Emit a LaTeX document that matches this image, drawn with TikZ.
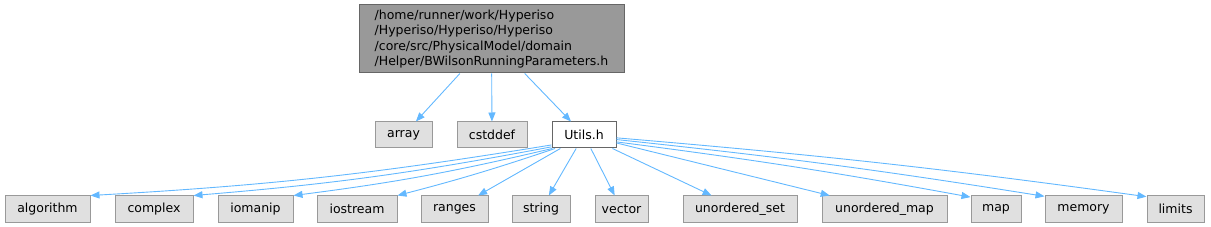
\documentclass[tikz,border=0pt]{standalone}
\usepackage{fontspec}
\setmainfont{DejaVu Sans}
\usetikzlibrary{arrows.meta}

\definecolor{edgeblue}{HTML}{63B8FF}
\definecolor{hdrfill}{HTML}{999999}
\definecolor{hdrline}{HTML}{666666}
\definecolor{incfill}{HTML}{E0E0E0}
\definecolor{incline}{HTML}{999999}

\begin{document}
\begin{tikzpicture}[
    x=1pt, y=1pt,
    font=\fontsize{12.5}{15.2}\selectfont,
    header/.style={rectangle, draw=hdrline, fill=hdrfill, line width=1pt, align=left, minimum width=265pt, minimum height=68pt, inner sep=0pt},
    sysinc/.style={rectangle, draw=incline, fill=incfill, line width=1pt, minimum height=26pt, inner sep=0pt},
    localinc/.style={rectangle, draw=hdrline, fill=white, line width=1pt, minimum height=26pt, inner sep=0pt},
    dep/.style={-{Triangle[length=9pt,width=7pt]}, draw=edgeblue, line width=0.9pt}
]
    \useasboundingbox (0,0) rectangle (1211,-227);

    % the header itself
    \node[header] (bwilson) at (491.5,-39) {/home/runner/work/Hyperiso\\/Hyperiso/Hyperiso/Hyperiso\\/core/src/PhysicalModel/domain\\/Helper/BWilsonRunningParameters.h};

    % direct includes
    \node[sysinc, minimum width=57pt] (array) at (403.5,-135) {array};
    \node[sysinc, minimum width=70pt] (cstddef) at (492,-135) {cstddef};
    \node[localinc, minimum width=64pt] (utils) at (584,-135) {Utils.h};

    % includes of Utils.h
    \node[sysinc, minimum width=85pt] (algorithm) at (47.5,-209) {algorithm};
    \node[sysinc, minimum width=78pt] (complex) at (154,-209) {complex};
    \node[sysinc, minimum width=75pt] (iomanip) at (255.5,-209) {iomanip};
    \node[sysinc, minimum width=80pt] (iostream) at (357,-209) {iostream};
    \node[sysinc, minimum width=67pt] (ranges) at (454.5,-209) {ranges};
    \node[sysinc, minimum width=58pt] (string) at (541,-209) {string};
    \node[sysinc, minimum width=53pt] (vector) at (621.5,-209) {vector};
    \node[sysinc, minimum width=114pt] (uset) at (740,-209) {unordered\_set};
    \node[sysinc, minimum width=125pt] (umap) at (884.5,-209) {unordered\_map};
    \node[sysinc, minimum width=50pt] (map) at (996,-209) {map};
    \node[sysinc, minimum width=77pt] (memory) at (1083.5,-209) {memory};
    \node[sysinc, minimum width=57pt] (limits) at (1175.5,-209) {limits};

    \draw[dep] (bwilson) -- (array);
    \draw[dep] (bwilson) -- (cstddef);
    \draw[dep] (bwilson) -- (utils);

    \draw[dep] (utils.-163) to[bend left=3] (algorithm.north east);
    \draw[dep] (utils.-160) to[bend left=3] (complex.north east);
    \draw[dep] (utils.-157) to[bend left=3] (iomanip.north east);
    \draw[dep] (utils.-155) to[bend left=2] (iostream.north east);
    \draw[dep] (utils) -- (ranges);
    \draw[dep] (utils) -- (string);
    \draw[dep] (utils) -- (vector);
    \draw[dep] (utils) -- (uset);
    \draw[dep] (utils) -- (umap);
    \draw[dep] (utils.-12) to[bend left=1.5] (map.155);
    \draw[dep] (utils.-8) to[bend left=1.5] (memory.162);
    \draw[dep] (utils.-5) to[bend left=1.5] (limits.157);
\end{tikzpicture}
\end{document}
